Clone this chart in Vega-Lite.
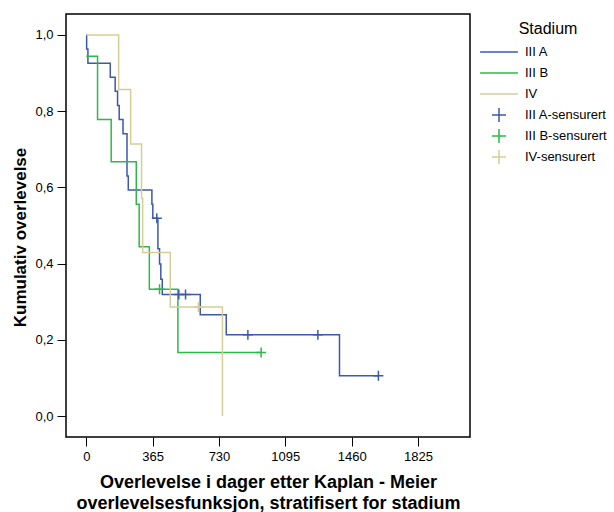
{
  "$schema": "https://vega.github.io/schema/vega-lite/v6.json",
  "width": 404,
  "height": 423,
  "autosize": {"type": "none"},
  "padding": {"left": 66, "top": 14, "right": 144, "bottom": 75},
  "background": "white",
  "config": {
    "font": "Liberation Sans",
    "view": {"stroke": "black", "strokeWidth": 1.5},
    "axis": {
      "grid": false,
      "domain": false,
      "tickColor": "black",
      "tickSize": 9,
      "tickWidth": 1,
      "labelFontSize": 13,
      "labelColor": "black",
      "titleFontWeight": "bold",
      "titleColor": "black"
    },
    "legend": {
      "orient": "none",
      "legendX": 423,
      "legendY": 7,
      "padding": 0,
      "titleFontSize": 16,
      "titleFontWeight": "normal",
      "titleColor": "black",
      "titleAnchor": "middle",
      "titlePadding": 5,
      "labelFontSize": 13,
      "labelColor": "black",
      "symbolSize": 324,
      "symbolStrokeWidth": 1.5,
      "labelOffset": 16,
      "rowPadding": -2,
      "gridAlign": "all"
    }
  },
  "datasets": {
    "km": [
      {"serie": "III A", "dager": 0, "overlevelse": 1.0},
      {"serie": "III A", "dager": 2, "overlevelse": 0.963},
      {"serie": "III A", "dager": 9, "overlevelse": 0.926},
      {"serie": "III A", "dager": 132, "overlevelse": 0.889},
      {"serie": "III A", "dager": 159, "overlevelse": 0.852},
      {"serie": "III A", "dager": 172, "overlevelse": 0.815},
      {"serie": "III A", "dager": 181, "overlevelse": 0.778},
      {"serie": "III A", "dager": 202, "overlevelse": 0.741},
      {"serie": "III A", "dager": 224, "overlevelse": 0.630},
      {"serie": "III A", "dager": 231, "overlevelse": 0.593},
      {"serie": "III A", "dager": 361, "overlevelse": 0.556},
      {"serie": "III A", "dager": 366, "overlevelse": 0.519},
      {"serie": "III A", "dager": 394, "overlevelse": 0.439},
      {"serie": "III A", "dager": 403, "overlevelse": 0.399},
      {"serie": "III A", "dager": 410, "overlevelse": 0.359},
      {"serie": "III A", "dager": 418, "overlevelse": 0.319},
      {"serie": "III A", "dager": 627, "overlevelse": 0.266},
      {"serie": "III A", "dager": 770, "overlevelse": 0.213},
      {"serie": "III A", "dager": 1393, "overlevelse": 0.106},
      {"serie": "III A", "dager": 1607, "overlevelse": 0.106},
      {"serie": "III B", "dager": 0, "overlevelse": 0.944},
      {"serie": "III B", "dager": 62, "overlevelse": 0.778},
      {"serie": "III B", "dager": 137, "overlevelse": 0.667},
      {"serie": "III B", "dager": 275, "overlevelse": 0.556},
      {"serie": "III B", "dager": 291, "overlevelse": 0.444},
      {"serie": "III B", "dager": 347, "overlevelse": 0.333},
      {"serie": "III B", "dager": 504, "overlevelse": 0.167},
      {"serie": "III B", "dager": 962, "overlevelse": 0.167},
      {"serie": "IV", "dager": 0, "overlevelse": 1.0},
      {"serie": "IV", "dager": 178, "overlevelse": 0.857},
      {"serie": "IV", "dager": 244, "overlevelse": 0.714},
      {"serie": "IV", "dager": 304, "overlevelse": 0.571},
      {"serie": "IV", "dager": 310, "overlevelse": 0.429},
      {"serie": "IV", "dager": 462, "overlevelse": 0.286},
      {"serie": "IV", "dager": 749, "overlevelse": 0.0}
    ],
    "sensurert": [
      {"serie": "III A-sensurert", "dager": 388, "overlevelse": 0.519},
      {"serie": "III A-sensurert", "dager": 509, "overlevelse": 0.319},
      {"serie": "III A-sensurert", "dager": 546, "overlevelse": 0.319},
      {"serie": "III A-sensurert", "dager": 889, "overlevelse": 0.213},
      {"serie": "III A-sensurert", "dager": 1274, "overlevelse": 0.213},
      {"serie": "III A-sensurert", "dager": 1607, "overlevelse": 0.106},
      {"serie": "III B-sensurert", "dager": 403, "overlevelse": 0.333},
      {"serie": "III B-sensurert", "dager": 962, "overlevelse": 0.167},
      {"serie": "IV-sensurert", "dager": 617, "overlevelse": 0.286}
    ]
  },
  "encoding": {
    "x": {
      "field": "dager",
      "type": "quantitative",
      "scale": {"domain": [-111.6, 2111], "nice": false, "zero": false},
      "axis": {
        "values": [0, 365, 730, 1095, 1460, 1825],
        "format": "d",
        "labelPadding": 4,
        "title": ["Overlevelse i dager etter Kaplan - Meier", "overlevelsesfunksjon, stratifisert for stadium"],
        "titleFontSize": 18,
        "titleLineHeight": 21.5,
        "titleBaseline": "middle",
        "titleAlign": "center",
        "titleX": 202,
        "titleY": 45
      }
    },
    "y": {
      "field": "overlevelse",
      "type": "quantitative",
      "scale": {"domain": [-0.055, 1.055], "nice": false, "zero": false},
      "axis": {
        "values": [0, 0.2, 0.4, 0.6, 0.8, 1.0],
        "labelExpr": "replace(format(datum.value, '.1f'), '.', ',')",
        "labelPadding": 4,
        "title": "Kumulativ overlevelse",
        "titleFontSize": 17,
        "titleBaseline": "middle",
        "titleAlign": "center",
        "titleAngle": -90,
        "titleX": -46,
        "titleY": 223
      }
    },
    "color": {
      "field": "serie",
      "type": "nominal",
      "scale": {
        "domain": ["III A", "III B", "IV", "III A-sensurert", "III B-sensurert", "IV-sensurert"],
        "range": ["#3E58AC", "#2EB848", "#D3CE97", "#3E58AC", "#2EB848", "#D3CE97"]
      },
      "legend": {"title": "Stadium"}
    }
  },
  "layer": [
    {
      "data": {"name": "km"},
      "mark": {"type": "line", "interpolate": "step-after", "strokeWidth": 1.5}
    },
    {
      "data": {"name": "sensurert"},
      "mark": {"type": "point", "filled": false, "strokeWidth": 1.5, "size": 164, "opacity": 1},
      "encoding": {
        "shape": {
          "field": "serie",
          "type": "nominal",
          "scale": {
            "domain": ["III A", "III B", "IV", "III A-sensurert", "III B-sensurert", "IV-sensurert"],
            "range": ["M-2.1,0L2.1,0", "M-2.1,0L2.1,0", "M-2.1,0L2.1,0", "M-0.78,0L0.78,0M0,-0.78L0,0.78", "M-0.78,0L0.78,0M0,-0.78L0,0.78", "M-0.78,0L0.78,0M0,-0.78L0,0.78"]
          },
          "legend": {"title": "Stadium"}
        }
      }
    }
  ]
}
